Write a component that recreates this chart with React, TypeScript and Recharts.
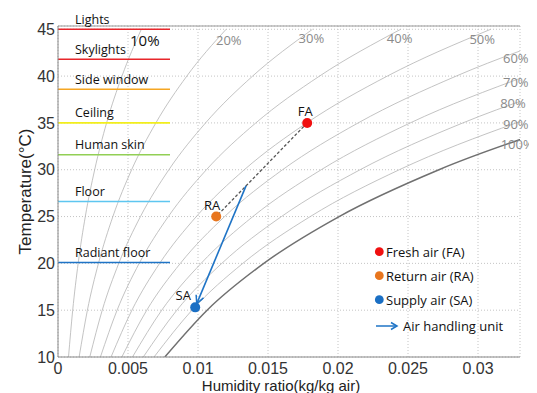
import React from "react";
import {
  ComposedChart,
  Line,
  Scatter,
  XAxis,
  YAxis,
  CartesianGrid,
  ReferenceLine,
  ReferenceDot,
} from "recharts";

// humidity ratio (kg/kg) of each RH curve at these temperatures
const temps = [10, 15, 20, 25, 30, 35, 40, 45];
const rh10 = [0.00075, 0.00105, 0.00144, 0.00195, 0.00262, 0.00347, 0.00457, 0.00595];
const rh20 = [0.00151, 0.0021, 0.00289, 0.00392, 0.00526, 0.00699, 0.0092, 0.01201];
const rh30 = [0.00227, 0.00316, 0.00434, 0.00589, 0.00792, 0.01054, 0.0139, 0.01818];
const rh40 = [0.00303, 0.00422, 0.0058, 0.00788, 0.0106, 0.01413, 0.01868, 0.02448];
const rh50 = [0.00379, 0.00528, 0.00726, 0.00988, 0.01331, 0.01777, 0.02352, 0.03091];
const rh60 = [0.00456, 0.00634, 0.00874, 0.0119, 0.01604, 0.02144, 0.02844, 0.03746];
const rh70 = [0.00532, 0.00741, 0.01022, 0.01392, 0.0188, 0.02516, 0.03344];
const rh80 = [0.00609, 0.00849, 0.0117, 0.01596, 0.02158, 0.02892, 0.0385];
const rh90 = [0.00686, 0.00957, 0.0132, 0.01802, 0.02438, 0.03273, 0.04366];
const rh100 = [0.00763, 0.01065, 0.0147, 0.02008, 0.02721, 0.03658];
const rhCurves = [rh10, rh20, rh30, rh40, rh50, rh60, rh70, rh80, rh90, rh100];
const rhNames = ["10%", "20%", "30%", "40%", "50%", "60%", "70%", "80%", "90%", "100%"];
const rhLabelW = [0.0062, 0.0122, 0.0181, 0.0244, 0.0303, 0.0327, 0.0327, 0.0325, 0.0327, 0.0328];
const rhLabelT = [43.86, 43.86, 44.07, 44.1, 43.96, 41.94, 39.38, 37.13, 34.89, 32.76];

// indoor surface temperatures
const surfaces = ["Lights", "Skylights", "Side window", "Ceiling", "Human skin", "Floor", "Radiant floor"];
const surfaceTemps = [45, 41.8, 38.6, 35, 31.6, 26.6, 20.1];
const surfaceColors = ["#e8262b", "#e8262b", "#f5a623", "#f2ee1c", "#92cf55", "#5ec6f0", "#1f74c6"];
const surfaceEndW = 0.008;

// air states
const pointNames = ["FA", "RA", "SA"];
const pointW = [0.0178, 0.0113, 0.0098];
const pointT = [35, 25, 15.3];
const pointColors = ["#f01010", "#e8761e", "#1a6fc4"];
const pointLabelDx = [-2, -4, -12];
const mixW = 0.01343;
const mixT = 28.28;

const xTicks = [0, 0.005, 0.01, 0.015, 0.02, 0.025, 0.03];
const yTicks = [10, 15, 20, 25, 30, 35, 40, 45];

const legendItems = ["Fresh air (FA)", "Return air (RA)", "Supply air (SA)"];

const tickFont = "'Liberation Sans', Arial, sans-serif";
const labelFont = "'Open Sans', 'Noto Sans', sans-serif";

const toPoints = (ws: number[]) => ws.map((w, i) => ({ w, t: temps[i] }));

export default function App() {
  return (
    <div style={{ position: "relative", width: 529, height: 385 }}>
      <svg width={0} height={0} style={{ position: "absolute" }}>
        <defs>
          <marker
            id="ahu-arrow"
            markerUnits="userSpaceOnUse"
            markerWidth={12}
            markerHeight={12}
            refX={13}
            refY={4.5}
            orient="auto"
          >
            <path d="M1,0.5 L9,4.5 L1,8.5" fill="none" stroke="#1f74c6" strokeWidth={1.5} />
          </marker>
        </defs>
      </svg>
      <ComposedChart width={529} height={385} margin={{ top: 18, right: 17, bottom: 0, left: 0 }}>
        <CartesianGrid strokeDasharray="1 2" stroke="#c4c4c4" />
        <XAxis
          type="number"
          dataKey="w"
          domain={[0, 0.033]}
          ticks={xTicks}
          allowDataOverflow
          height={36}
          tickLine={false}
          tickSize={0}
          tickMargin={6}
          axisLine={{ stroke: "#888" }}
          tick={{ fontSize: 16, fill: "#333", fontFamily: tickFont }}
          label={{
            content: ({ viewBox }: any) => (
              <text
                x={viewBox.x + viewBox.width / 2 - 8}
                y={377}
                textAnchor="middle"
                dominantBaseline="central"
                fontSize={15}
                fill="#222"
                fontFamily={tickFont}
              >
                Humidity ratio(kg/kg air)
              </text>
            ),
          }}
        />
        <YAxis
          type="number"
          dataKey="t"
          domain={[10, 45.35]}
          ticks={yTicks}
          allowDataOverflow
          width={50}
          tickLine={false}
          tickSize={0}
          tickMargin={3}
          axisLine={{ stroke: "#888" }}
          tick={{ fontSize: 16, fill: "#333", fontFamily: tickFont }}
          label={{
            content: ({ viewBox }: any) => {
              const cy = viewBox.y + viewBox.height / 2;
              return (
                <text
                  x={17}
                  y={cy}
                  transform={`rotate(-90 17 ${cy})`}
                  textAnchor="middle"
                  dominantBaseline="central"
                  fontSize={17}
                  fill="#222"
                  fontFamily={tickFont}
                >
                  Temperature(°C)
                </text>
              );
            },
          }}
        />
        <YAxis
          yAxisId="r"
          orientation="right"
          type="number"
          domain={[10, 45.35]}
          ticks={yTicks}
          allowDataOverflow
          width={0}
          mirror
          tickSize={5}
          tickLine={{ stroke: "#888" }}
          tickFormatter={() => ""}
          axisLine={{ stroke: "#888" }}
        />
        <ReferenceLine y={45.35} stroke="#999" />

        {rhCurves.map((ws, i) => (
          <Line
            key={rhNames[i]}
            data={toPoints(ws)}
            dataKey="t"
            type="monotone"
            stroke={i === 9 ? "#707070" : "#b4b4b4"}
            strokeWidth={i === 9 ? 1.5 : 0.8}
            dot={false}
            activeDot={false}
            isAnimationActive={false}
          />
        ))}

        {rhNames.map((name, i) => (
          <ReferenceDot
            key={"lbl" + name}
            x={rhLabelW[i]}
            y={rhLabelT[i]}
            r={0}
            ifOverflow="visible"
            shape={(p: any) => (
              <text
                x={p.cx}
                y={p.cy}
                textAnchor="middle"
                dominantBaseline="central"
                fontSize={i === 0 ? 15 : 13}
                fill={i === 0 ? "#111" : "#8a8a8a"}
                fontFamily={labelFont}
              >
                {name}
              </text>
            )}
          />
        ))}

        {surfaces.map((name, i) => (
          <ReferenceLine
            key={name}
            segment={[
              { x: 0, y: surfaceTemps[i] },
              { x: surfaceEndW, y: surfaceTemps[i] },
            ]}
            stroke={surfaceColors[i]}
            strokeWidth={1.6}
            ifOverflow="visible"
          />
        ))}
        {surfaces.map((name, i) => (
          <ReferenceDot
            key={"s" + name}
            x={0}
            y={surfaceTemps[i]}
            r={0}
            ifOverflow="visible"
            shape={(p: any) => (
              <text
                x={p.cx + 17}
                y={p.cy - 10}
                dominantBaseline="central"
                fontSize={12.5}
                fill="#111"
                fontFamily={labelFont}
              >
                {name}
              </text>
            )}
          />
        ))}

        <Line
          data={[
            { w: pointW[0], t: pointT[0] },
            { w: pointW[1], t: pointT[1] },
          ]}
          dataKey="t"
          type="linear"
          stroke="#555"
          strokeWidth={1.3}
          strokeDasharray="3 2"
          dot={false}
          activeDot={false}
          isAnimationActive={false}
        />
        <Line
          data={[
            { w: mixW, t: mixT },
            { w: pointW[2], t: pointT[2] },
          ]}
          dataKey="t"
          type="linear"
          stroke="#1f74c6"
          strokeWidth={1.6}
          markerEnd="url(#ahu-arrow)"
          dot={false}
          activeDot={false}
          isAnimationActive={false}
        />

        {pointNames.map((name, i) => (
          <Scatter
            key={name}
            data={[{ w: pointW[i], t: pointT[i] }]}
            dataKey="t"
            isAnimationActive={false}
            shape={(p: any) => (
              <g>
                <circle cx={p.cx} cy={p.cy} r={5} fill={pointColors[i]} />
                <text
                  x={p.cx + pointLabelDx[i]}
                  y={p.cy - 12}
                  textAnchor="middle"
                  dominantBaseline="central"
                  fontSize={13}
                  fill="#111"
                  fontFamily={labelFont}
                >
                  {name}
                </text>
              </g>
            )}
          />
        ))}
      </ComposedChart>

      <svg
        width={170}
        height={100}
        style={{ position: "absolute", left: 360, top: 230 }}
        fontFamily={labelFont}
      >
        {legendItems.map((name, i) => (
          <g key={name}>
            <circle cx={11.3} cy={13.7 + i * 24} r={4.4} fill={pointColors[i]} />
            <text x={18} y={14 + i * 24} dominantBaseline="central" fontSize={13} fill="#111">
              {name}
            </text>
          </g>
        ))}
        <line x1={8} y1={88} x2={28.5} y2={88} stroke="#1f74c6" strokeWidth={1.5} />
        <path d="M23,84.5 L29,88 L23,91.5" fill="none" stroke="#1f74c6" strokeWidth={1.5} />
        <text x={35} y={88} dominantBaseline="central" fontSize={13} fill="#111">
          Air handling unit
        </text>
      </svg>
    </div>
  );
}
